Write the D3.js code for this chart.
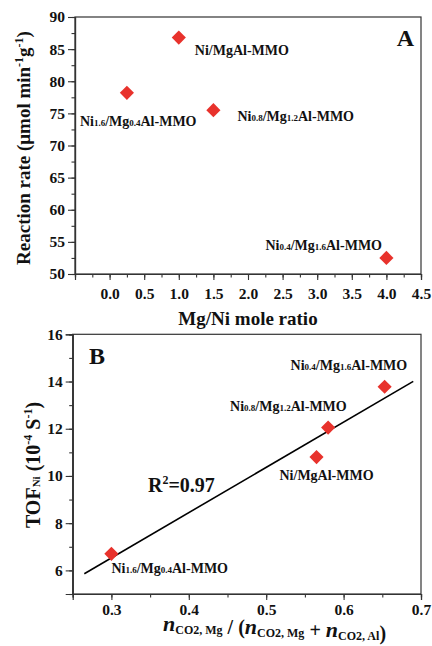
<!DOCTYPE html>
<html>
<head>
<meta charset="utf-8">
<script src="https://cdn.jsdelivr.net/npm/d3@7"></script>
<style>
  body { margin: 0; background: #fff; }
  svg { display: block; font-family: "Liberation Serif", "Times New Roman", serif; font-weight: bold; }
</style>
</head>
<body>
<svg id="chart" width="432" height="646"></svg>
<script>
// sample names: Ni subscript / Mg subscript (empty = no subscript)
const niSub = ['1.6', '', '0.8', '0.4']
const mgSub = ['0.4', '', '1.2', '1.6']

// panel A
const mgNiRatio = [0.25, 1.0, 1.5, 4.0]
const reactionRate = [78.2, 86.8, 75.5, 52.5]
const xTicksA = [0, 0.5, 1, 1.5, 2, 2.5, 3, 3.5, 4, 4.5]
const yTicksA = [50, 55, 60, 65, 70, 75, 80, 85, 90]

// panel B
const co2Frac = [0.30, 0.565, 0.58, 0.653]
const tofNi = [6.7, 10.8, 12.05, 13.78]
const fitRange = [0.265, 0.69]
const r2Text = '0.97'
const xTicksB = [0.3, 0.4, 0.5, 0.6, 0.7]
const yTicksB = [6, 8, 10, 12, 14, 16]

const svg = d3.select('#chart')
const red = '#e8322c'
const frameColor = '#333'

// label offsets from each point (px) for the two panels
const labelOffA = [[-47, 33], [16, 17], [24, 11], [-121, -8]]
const labelOffB = [[0, 19], [-37, 23], [-98, -17], [-94, -17]]

function sampleLabel(g, i, x, y) {
    const t = g.append('text')
        .attr('x', x).attr('y', y)
        .attr('font-size', 14)
        .attr('fill', '#111')
    t.append('tspan').text('Ni')
    if (niSub[i]) t.append('tspan').attr('font-size', 9).text(niSub[i])
    t.append('tspan').text('/Mg')
    if (mgSub[i]) t.append('tspan').attr('font-size', 9).text(mgSub[i])
    t.append('tspan').text('Al-MMO')
}

function drawPanel(box, xDom, yDom, xTicks, yTicks, xMinorStep, yMinorStep, xFmt, yFmt, xPad) {
    const x = d3.scaleLinear().domain(xDom).range([box.left, box.right])
    const y = d3.scaleLinear().domain(yDom).range([box.bottom, box.top])
    const g = svg.append('g')

    // frame
    g.append('rect')
        .attr('x', box.left).attr('y', box.top)
        .attr('width', box.right - box.left).attr('height', box.bottom - box.top)
        .attr('fill', 'none').attr('stroke', frameColor).attr('stroke-width', 1.2)

    const xMinor = d3.range(xDom[0], xDom[1] + 1e-9, xMinorStep)
    const yMinor = d3.range(yDom[0], yDom[1] + 1e-9, yMinorStep)

    // minor ticks
    g.append('g')
        .attr('transform', `translate(0,${box.bottom})`)
        .call(d3.axisBottom(x).tickValues(xMinor).tickSize(3.5).tickFormat(''))
    g.append('g')
        .attr('transform', `translate(${box.left},0)`)
        .call(d3.axisLeft(y).tickValues(yMinor).tickSize(3.5).tickFormat(''))

    // major ticks
    g.append('g')
        .attr('transform', `translate(0,${box.bottom})`)
        .call(d3.axisBottom(x).tickValues(xTicks).tickSize(6).tickPadding(xPad).tickFormat(xFmt))
    g.append('g')
        .attr('transform', `translate(${box.left},0)`)
        .call(d3.axisLeft(y).tickValues(yTicks).tickSize(7).tickPadding(3).tickFormat(yFmt))

    g.selectAll('.domain').attr('stroke', frameColor).attr('stroke-width', 1.2)
    g.selectAll('.tick line').attr('stroke', frameColor).attr('stroke-width', 1.1)
    g.selectAll('.tick text')
        .attr('font-family', '"Liberation Serif", serif')
        .attr('font-weight', 'bold')
        .attr('font-size', 15.5)
        .attr('fill', '#111')
    return { x, y, g }
}

// ---------- panel A ----------
const A = drawPanel({ left: 75, right: 421, top: 17, bottom: 274 },
    [-0.5, 4.5], [50, 90], xTicksA, yTicksA, 0.25, 2.5, d3.format('.1f'), d3.format('d'), 8)

const diamond = d3.symbol(d3.symbolSquare, 100)

A.g.selectAll('.pt')
    .data(mgNiRatio)
    .join('path')
    .attr('d', diamond)
    .attr('fill', red)
    .attr('transform', (d, i) => `translate(${A.x(d)},${A.y(reactionRate[i])}) rotate(45)`)

mgNiRatio.forEach((d, i) => {
    sampleLabel(A.g, i, A.x(d) + labelOffA[i][0], A.y(reactionRate[i]) + labelOffA[i][1])
})

A.g.append('text')
    .attr('x', 414).attr('y', 46)
    .attr('text-anchor', 'end')
    .attr('font-size', 24)
    .attr('fill', '#111')
    .text('A')

// axis titles A
A.g.append('text')
    .attr('x', 248).attr('y', 325)
    .attr('text-anchor', 'middle')
    .attr('font-size', 19)
    .attr('fill', '#111')
    .text('Mg/Ni mole ratio')

const ytA = A.g.append('text')
    .attr('transform', 'translate(30,148) rotate(-90)')
    .attr('text-anchor', 'middle')
    .attr('font-size', 19)
    .attr('fill', '#111')
ytA.append('tspan').text('Reaction rate (\u03bcmol min')
ytA.append('tspan').attr('font-size', 12).attr('dy', -7).text('-1')
ytA.append('tspan').attr('dy', 7).text('g')
ytA.append('tspan').attr('font-size', 12).attr('dy', -7).text('-1')
ytA.append('tspan').attr('dy', 7).text(')')

// ---------- panel B ----------
const B = drawPanel({ left: 72.7, right: 421, top: 334.3, bottom: 594 },
    [0.25, 0.7], [5, 16], xTicksB, yTicksB, 0.05, 1, d3.format('.1f'), d3.format('d'), 4)

// least-squares fit of TOF vs CO2 fraction
const mx = d3.mean(co2Frac), my = d3.mean(tofNi)
const slope = d3.sum(co2Frac, (d, i) => (d - mx) * (tofNi[i] - my)) /
    d3.sum(co2Frac, d => (d - mx) ** 2)
const intercept = my - slope * mx

B.g.append('path')
    .datum(fitRange)
    .attr('d', d3.line().x(d => B.x(d)).y(d => B.y(intercept + slope * d)))
    .attr('stroke', '#000')
    .attr('stroke-width', 1.6)
    .attr('fill', 'none')

B.g.selectAll('.pt')
    .data(co2Frac)
    .join('path')
    .attr('d', diamond)
    .attr('fill', red)
    .attr('transform', (d, i) => `translate(${B.x(d)},${B.y(tofNi[i])}) rotate(45)`)

co2Frac.forEach((d, i) => {
    sampleLabel(B.g, i, B.x(d) + labelOffB[i][0], B.y(tofNi[i]) + labelOffB[i][1])
})

B.g.append('text')
    .attr('x', 89).attr('y', 364)
    .attr('font-size', 24)
    .attr('fill', '#111')
    .text('B')

const r2 = B.g.append('text')
    .attr('x', 148).attr('y', 492)
    .attr('font-size', 20)
    .attr('fill', '#111')
r2.append('tspan').text('R')
r2.append('tspan').attr('font-size', 12).attr('dy', -8).text('2')
r2.append('tspan').attr('dy', 8).text('=' + r2Text)

// axis titles B
const ytB = B.g.append('text')
    .attr('transform', 'translate(40,465) rotate(-90)')
    .attr('text-anchor', 'middle')
    .attr('font-size', 20)
    .attr('fill', '#111')
ytB.append('tspan').text('TOF')
ytB.append('tspan').attr('font-size', 11).text('Ni')
ytB.append('tspan').text(' (10')
ytB.append('tspan').attr('font-size', 12).attr('dy', -8).text('-4')
ytB.append('tspan').attr('dy', 8).text(' S')
ytB.append('tspan').attr('font-size', 12).attr('dy', -8).text('-1')
ytB.append('tspan').attr('dy', 8).text(')')

const xtB = B.g.append('text')
    .attr('x', 163).attr('y', 631)
    .attr('font-size', 20)
    .attr('fill', '#111')
const nTerm = (sub) => {
    xtB.append('tspan').attr('font-style', 'italic').attr('font-size', 22).text('n')
    xtB.append('tspan').attr('font-size', 12).attr('dy', 3).text(sub)
    xtB.append('tspan').attr('dy', -3).text('')
}
nTerm('CO2, Mg')
xtB.append('tspan').text(' / (')
nTerm('CO2, Mg')
xtB.append('tspan').text(' + ')
nTerm('CO2, Al')
xtB.append('tspan').text(')')
</script>
</body>
</html>
